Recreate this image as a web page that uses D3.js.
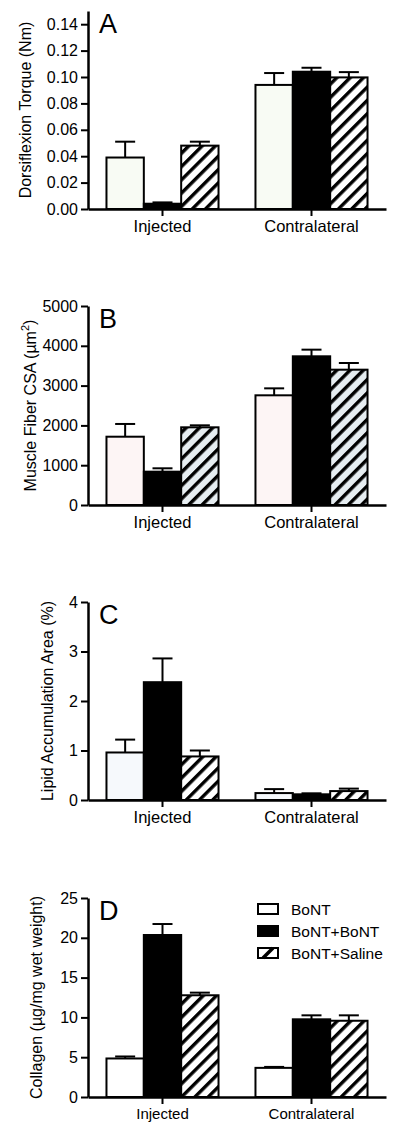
<!DOCTYPE html>
<html><head><meta charset="utf-8">
<script src="https://cdn.jsdelivr.net/npm/d3@7"></script>
<style>
body{margin:0;background:#fff}
svg{display:block}
text{font-family:"Liberation Sans",Arial,Helvetica,sans-serif;fill:#000}
</style>
</head><body>
<svg id="chart" width="400" height="1135"></svg>
<script>
// ---------- DATA ----------
const groups = ["Injected", "Contralateral"];
const series = ["BoNT", "BoNT+BoNT", "BoNT+Saline"];

// rows = series (BoNT, BoNT+BoNT, BoNT+Saline), cols = groups (Injected, Contralateral)
const torqueMean = [[0.039, 0.094], [0.004, 0.104], [0.048, 0.0997]];
const torqueSem  = [[0.012, 0.009], [0.001, 0.003], [0.003, 0.004]];
const torqueTicks = [0, 0.02, 0.04, 0.06, 0.08, 0.10, 0.12, 0.14];

const csaMean = [[1716, 2756], [837, 3736], [1952, 3400]];
const csaSem  = [[320, 175], [85, 167], [50, 168]];
const csaTicks = [0, 1000, 2000, 3000, 4000, 5000];

const lipidMean = [[0.96, 0.14], [2.38, 0.115], [0.88, 0.18]];
const lipidSem  = [[0.26, 0.08], [0.48, 0.02], [0.12, 0.05]];
const lipidTicks = [0, 1, 2, 3, 4];

const collagenMean = [[4.84, 3.66], [20.35, 9.76], [12.78, 9.58]];
const collagenSem  = [[0.25, 0.12], [1.38, 0.50], [0.33, 0.68]];
const collagenTicks = [0, 5, 10, 15, 20, 25];

// ---------- LAYOUT ----------
const panels = [
  {letter: "A", mean: torqueMean, sem: torqueSem, ticks: torqueTicks, max: 0.15, fmt: ".2f",
   y0: 209, y1: 11, title: "Dorsiflexion Torque (Nm)", titleX: 25, fillA: "#f8fbf4", hatchBg: "#ffffff", xFont: 16.5},
  {letter: "B", mean: csaMean, sem: csaSem, ticks: csaTicks, max: 5000, fmt: "d",
   y0: 505, y1: 306, title: null, titleX: 30, fillA: "#fdf5f5", hatchBg: "#e6edf1", xFont: 16.5},
  {letter: "C", mean: lipidMean, sem: lipidSem, ticks: lipidTicks, max: 4, fmt: "d",
   y0: 800, y1: 602, title: "Lipid Accumulation Area (%)", titleX: 47, fillA: "#f6f9fc", hatchBg: "#ffffff", xFont: 16.5},
  {letter: "D", mean: collagenMean, sem: collagenSem, ticks: collagenTicks, max: 25, fmt: "d",
   y0: 1097, y1: 898, title: "Collagen (\u00b5g/mg wet weight)", titleX: 36, fillA: "#ffffff", hatchBg: "#ffffff", xFont: 15}
];

const svg = d3.select("#chart");
svg.append("rect").attr("width", 400).attr("height", 1135).attr("fill", "#fff");
const defs = svg.append("defs");

const x0 = d3.scaleBand().domain(groups).range([88, 386]).paddingInner(0.248).paddingOuter(0.124);
const x1 = d3.scaleBand().domain(series).range([0, x0.bandwidth()]);

panels.forEach((p, k) => {
  const pid = "hatch" + k;
  const pat = defs.append("pattern").attr("id", pid)
    .attr("patternUnits", "userSpaceOnUse").attr("width", 9.4).attr("height", 9.4)
    .attr("patternTransform", "rotate(45)");
  pat.append("rect").attr("width", 9.4).attr("height", 9.4).attr("fill", p.hatchBg);
  pat.append("rect").attr("x", 0).attr("width", 3.4).attr("height", 9.4).attr("fill", "#000");

  const g = svg.append("g");
  const y = d3.scaleLinear().domain([0, p.max]).range([p.y0, p.y1]);

  const fills = [p.fillA, "#000", `url(#${pid})`];
  const data = [];
  series.forEach((s, i) => groups.forEach((gr, j) => {
    data.push({s, gr, i, v: p.mean[i][j], e: p.sem[i][j]});
  }));

  // error bars (upper only)
  const eb = g.append("g").attr("stroke", "#000").attr("stroke-width", 2);
  data.forEach(d => {
    const cx = x0(d.gr) + x1(d.s) + x1.bandwidth() / 2;
    eb.append("line").attr("x1", cx).attr("x2", cx).attr("y1", y(d.v)).attr("y2", y(d.v + d.e));
    eb.append("line").attr("x1", cx - 10).attr("x2", cx + 10).attr("y1", y(d.v + d.e)).attr("y2", y(d.v + d.e));
  });

  // bars
  g.append("g").selectAll("rect").data(data).join("rect")
    .attr("x", d => x0(d.gr) + x1(d.s))
    .attr("y", d => y(d.v))
    .attr("width", x1.bandwidth())
    .attr("height", d => y(0) - y(d.v))
    .attr("fill", d => fills[d.i])
    .attr("stroke", "#000").attr("stroke-width", 2);

  // y axis
  const ya = g.append("g").attr("transform", "translate(88,0)")
    .call(d3.axisLeft(y).tickValues(p.ticks).tickSize(7).tickSizeOuter(0).tickPadding(3).tickFormat(d3.format(p.fmt)));
  ya.select(".domain").attr("stroke-width", 2.5);
  ya.selectAll(".tick line").attr("stroke-width", 2);
  ya.selectAll(".tick text").attr("font-size", 16).attr("font-family", "Liberation Sans, Arial, sans-serif");

  // x axis
  const xa = g.append("g").attr("transform", `translate(0,${p.y0})`)
    .call(d3.axisBottom(x0).tickSize(7).tickSizeOuter(0).tickPadding(4));
  xa.select(".domain").attr("stroke-width", 2.5);
  xa.selectAll(".tick line").attr("stroke-width", 2);
  xa.selectAll(".tick text").attr("font-size", p.xFont).attr("font-family", "Liberation Sans, Arial, sans-serif");

  // panel letter
  g.append("text").attr("x", 99).attr("y", p.y1 + 22).attr("font-size", 27).text(p.letter);

  // y title
  const cy = (p.y0 + p.y1) / 2;
  const t = g.append("text").attr("transform", `translate(${p.titleX},${cy}) rotate(-90)`)
    .attr("text-anchor", "middle").attr("dy", "0.35em").attr("font-size", 16);
  if (p.title) t.text(p.title);
  else {
    t.append("tspan").text("Muscle Fiber CSA (\u00b5m");
    t.append("tspan").attr("font-size", 11).attr("dy", "-0.6em").text("2");
    t.append("tspan").attr("dy", "0.4em").text(")");
  }

  // legend in panel D
  if (p.letter === "D") {
    const lg = g.append("g");
    const rowsY = [909, 931, 953];
    series.forEach((s, i) => {
      const ry = rowsY[i];
      if (i === 2) {
        lg.append("rect").attr("x", 258).attr("y", ry - 5).attr("width", 20).attr("height", 10).attr("fill", "#fff");
        lg.append("line").attr("x1", 263).attr("y1", ry + 5).attr("x2", 273).attr("y2", ry - 5)
          .attr("stroke", "#000").attr("stroke-width", 3.5);
        lg.append("rect").attr("x", 258).attr("y", ry - 5).attr("width", 20).attr("height", 10)
          .attr("fill", "none").attr("stroke", "#000").attr("stroke-width", 2);
      } else {
        lg.append("rect").attr("x", 258).attr("y", ry - 5).attr("width", 20).attr("height", 10)
          .attr("fill", i === 0 ? "#fff" : "#000").attr("stroke", "#000").attr("stroke-width", 2);
      }
      lg.append("text").attr("x", 291).attr("y", ry).attr("dy", "0.36em").attr("font-size", 15.5).text(s);
    });
  }
});
</script>
</body></html>
